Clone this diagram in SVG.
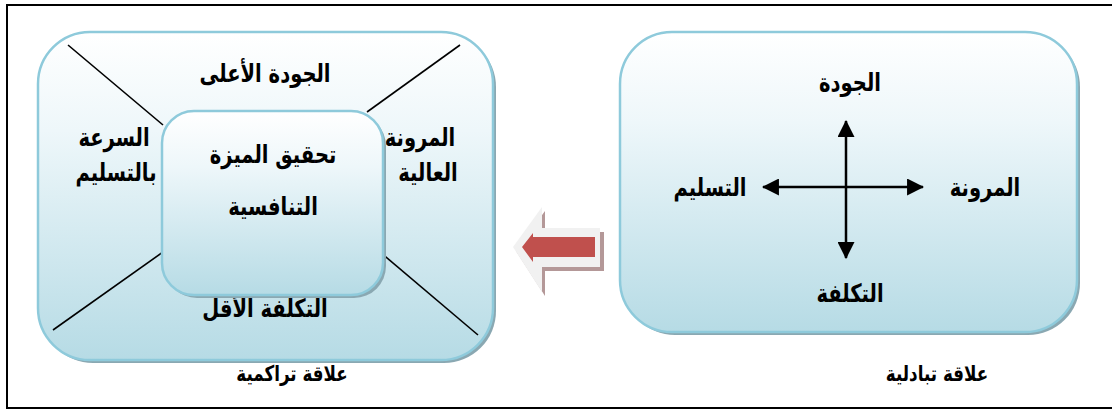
<svg xmlns="http://www.w3.org/2000/svg" width="1112" height="410" viewBox="0 0 1112 410">
<style>
.t{font-family:"DejaVu Sans","Noto Sans",sans-serif;font-weight:bold;font-size:21px;fill:#000;text-anchor:middle}
.s{font-size:18px}
.box{fill:url(#g);stroke:#8ecadb;stroke-width:2.5}
.sh{fill:#8aa8b2}
.ln{stroke:#000;stroke-width:1.6;fill:none}
.ax{stroke:#000;stroke-width:2.5;fill:none}
</style>
<defs>
<linearGradient id="g" x1="0" y1="0" x2="0" y2="1">
<stop offset="0" stop-color="#ffffff"/>
<stop offset="0.3" stop-color="#eef7fa"/>
<stop offset="1" stop-color="#b6dbe5"/>
</linearGradient>
<marker id="ah" viewBox="0 0 16 16" refX="15" refY="8" markerWidth="17" markerHeight="17" orient="auto-start-reverse" markerUnits="userSpaceOnUse">
<path d="M0,0 L16,8 L0,16 Z" fill="#000"/>
</marker>
</defs>
<rect x="7" y="5" width="1120" height="403" fill="#fff" stroke="#000" stroke-width="2"/>

<g id="cumulative">
<rect class="sh" x="41" y="35" width="455" height="328" rx="52"/>
<rect class="box" x="38" y="32" width="455" height="328" rx="52"/>
<line class="ln" x1="68" y1="45" x2="163" y2="125"/>
<line class="ln" x1="460" y1="45" x2="367" y2="112"/>
<line class="ln" x1="53" y1="330" x2="163" y2="252"/>
<line class="ln" x1="380" y1="252" x2="478" y2="335"/>
<text class="t" transform="translate(265,82) scale(0.93,1.2)">الجودة الأعلى</text>
<text class="t" transform="translate(114,146) scale(0.93,1.2)">السرعة</text>
<text class="t" transform="translate(116,181) scale(0.93,1.2)">بالتسليم</text>
<text class="t" transform="translate(420,146) scale(0.93,1.2)">المرونة</text>
<text class="t" transform="translate(428,181) scale(0.93,1.2)">العالية</text>
<text class="t" transform="translate(265,317) scale(0.93,1.2)">التكلفة الأقل</text>
</g>

<g id="center">
<rect class="sh" x="165" y="114" width="221" height="184" rx="32"/>
<rect class="box" x="162" y="111" width="221" height="184" rx="32"/>
<text class="t" transform="translate(273,163) scale(0.93,1.2)">تحقيق الميزة</text>
<text class="t" transform="translate(273,215) scale(0.93,1.2)">التنافسية</text>
</g>

<g id="tradeoff">
<rect class="sh" x="623" y="35" width="457" height="300" rx="52"/>
<rect class="box" x="620" y="32" width="457" height="300" rx="52"/>
<text class="t" transform="translate(850,91) scale(0.93,1.2)">الجودة</text>
<text class="t" transform="translate(985,196) scale(0.93,1.2)">المرونة</text>
<text class="t" transform="translate(710,196) scale(0.93,1.2)">التسليم</text>
<text class="t" transform="translate(850,302) scale(0.93,1.2)">التكلفة</text>
</g>

<g id="connectors">
<line class="ax" x1="846" y1="121" x2="846" y2="258" marker-start="url(#ah)" marker-end="url(#ah)"/>
<line class="ax" x1="763" y1="187" x2="923" y2="187" marker-start="url(#ah)" marker-end="url(#ah)"/>
</g>

<g id="bigarrow">
<path d="M516,251 L545,211 L545,232 L604,232 L604,271 L545,271 L545,296 Z" fill="#b49898"/>
<path d="M513,247 L542,207 L542,228 L600,228 L600,267 L542,267 L542,292 Z" fill="#f1f1f1"/>
<path d="M522,247 L533,233 L533,237 L595,237 L595,257 L533,257 L533,262 Z" fill="#c0504d"/>
</g>

<text class="t s" transform="translate(292,381) scale(0.93,1.2)">علاقة تراكمية</text>
<text class="t s" transform="translate(937,381) scale(0.93,1.2)">علاقة تبادلية</text>
</svg>
